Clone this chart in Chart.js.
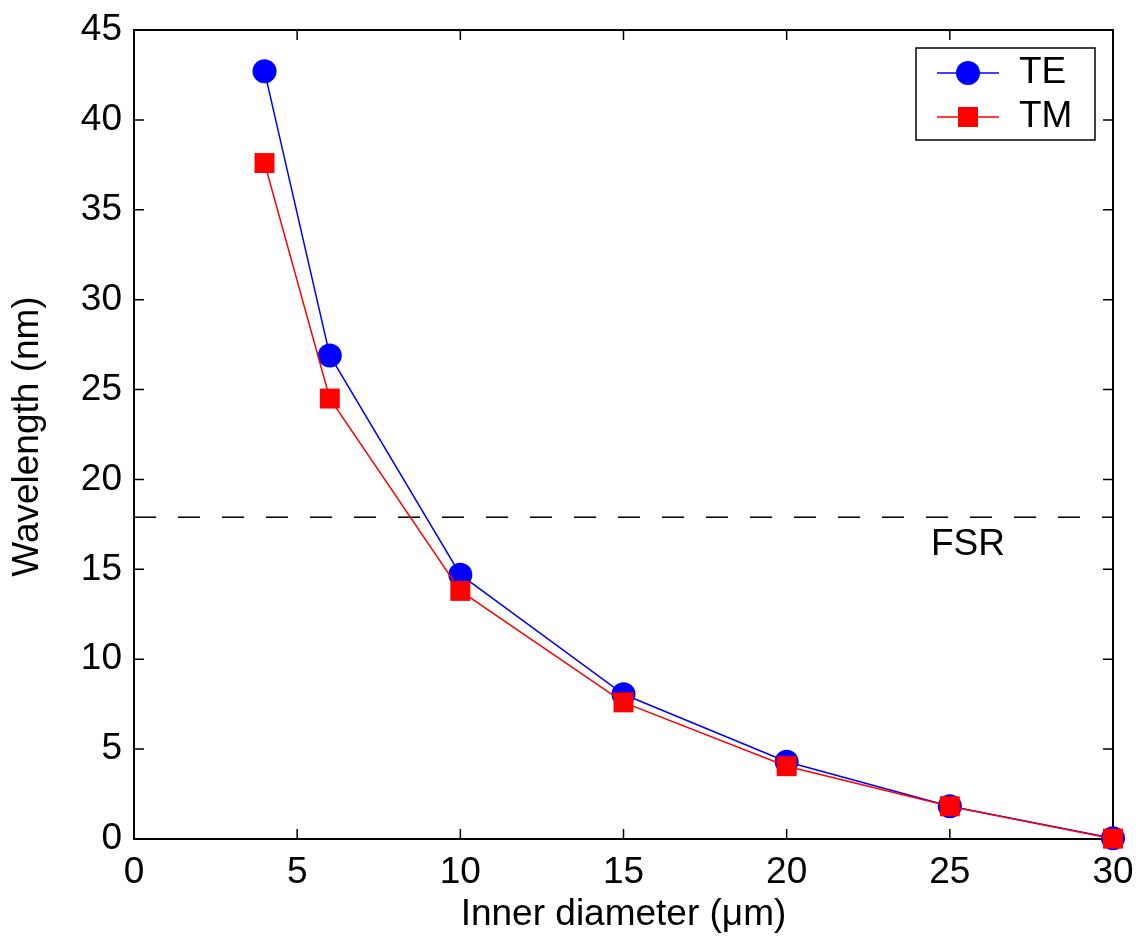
<!DOCTYPE html>
<html>
<head>
<meta charset="utf-8">
<script src="https://cdn.jsdelivr.net/npm/chart.js@4/dist/chart.umd.min.js"></script>
<style>
html,body{margin:0;padding:0;background:#fff;}
#wrap{width:1138px;height:945px;position:relative;}
</style>
</head>
<body>
<div id="wrap"><canvas id="c" width="1138" height="945"></canvas></div>
<script>
const diameters = [4, 6, 10, 15, 20, 25, 30];
const teValues = [42.7, 26.9, 14.7, 8.05, 4.3, 1.82, 0.04];
const tmValues = [37.6, 24.5, 13.8, 7.6, 4.05, 1.82, 0.02];
const fsrValue = 17.9;
const xTicks = [0, 5, 10, 15, 20, 25, 30];
const yTicks = [0, 5, 10, 15, 20, 25, 30, 35, 40, 45];
const seriesNames = ['TE', 'TM'];
const xTitle = 'Inner diameter (\u03bcm)';
const yTitle = 'Wavelength (nm)';
const fsrLabel = 'FSR';

const FONT = '"Liberation Sans", Arial, Helvetica, sans-serif';
const FS = 37;

const toPts = (xs, ys) => xs.map((x, i) => ({x: x, y: ys[i]}));

const framePlugin = {
  id: 'frame',
  beforeDatasetsDraw(chart) {
    const {ctx, chartArea: a, scales: {x, y}} = chart;
    ctx.save();
    ctx.strokeStyle = '#000';
    ctx.lineWidth = 2;
    ctx.strokeRect(a.left, a.top, a.right - a.left, a.bottom - a.top);
    ctx.lineWidth = 1.5;
    const tl = 10;
    ctx.beginPath();
    xTicks.forEach(v => {
      const px = x.getPixelForValue(v);
      ctx.moveTo(px, a.bottom); ctx.lineTo(px, a.bottom - tl);
      ctx.moveTo(px, a.top); ctx.lineTo(px, a.top + tl);
    });
    yTicks.forEach(v => {
      const py = y.getPixelForValue(v);
      ctx.moveTo(a.left, py); ctx.lineTo(a.left + tl, py);
      ctx.moveTo(a.right, py); ctx.lineTo(a.right - tl, py);
    });
    ctx.stroke();
    ctx.restore();
  },
  afterDraw(chart) {
    const {ctx, chartArea: a, scales: {x, y}} = chart;
    ctx.save();
    ctx.fillStyle = '#000';
    ctx.font = FS + 'px ' + FONT;
    ctx.textAlign = 'center';
    ctx.textBaseline = 'middle';
    ctx.fillText(xTitle, (a.left + a.right) / 2, 915);
    ctx.save();
    ctx.translate(28, (a.top + a.bottom) / 2 + 2);
    ctx.rotate(-Math.PI / 2);
    ctx.fillText(yTitle, 0, 0);
    ctx.restore();
    ctx.textAlign = 'left';
    ctx.fillText(fsrLabel, 931, y.getPixelForValue(fsrValue) + 28);
    const bx = 916, by = 48, bw = 179, bh = 92;
    ctx.fillStyle = '#fff';
    ctx.fillRect(bx, by, bw, bh);
    ctx.strokeStyle = '#000';
    ctx.lineWidth = 1.5;
    ctx.strokeRect(bx, by, bw, bh);
    const rows = [
      {name: seriesNames[0], color: '#0000ff', style: 'circle', y: 73},
      {name: seriesNames[1], color: '#ff0000', style: 'rect', y: 117}
    ];
    rows.forEach(r => {
      ctx.strokeStyle = r.color;
      ctx.lineWidth = 1.5;
      ctx.beginPath();
      ctx.moveTo(937, r.y); ctx.lineTo(999, r.y);
      ctx.stroke();
      ctx.fillStyle = r.color;
      if (r.style === 'circle') {
        ctx.beginPath(); ctx.arc(968, r.y, 12, 0, Math.PI * 2); ctx.fill();
      } else {
        ctx.fillRect(958, r.y - 10, 20, 20);
      }
      ctx.fillStyle = '#000';
      ctx.textAlign = 'left';
      ctx.textBaseline = 'middle';
      ctx.fillText(r.name, 1019, r.y);
    });
    ctx.restore();
  }
};

new Chart(document.getElementById('c'), {
  type: 'scatter',
  data: {
    datasets: [
      {
        label: seriesNames[0],
        data: toPts(diameters, teValues),
        showLine: true,
        borderColor: '#0000ff',
        backgroundColor: '#0000ff',
        borderWidth: 1.5,
        pointStyle: 'circle',
        pointRadius: 12,
        pointHoverRadius: 12,
        pointBorderWidth: 0,
        clip: false,
        order: 2
      },
      {
        label: seriesNames[1],
        data: toPts(diameters, tmValues),
        showLine: true,
        borderColor: '#ff0000',
        backgroundColor: '#ff0000',
        borderWidth: 1.5,
        pointStyle: 'rect',
        pointRadius: 14.1,
        pointHoverRadius: 14.1,
        pointBorderWidth: 0,
        clip: false,
        order: 1
      },
      {
        label: fsrLabel,
        data: [{x: 0, y: fsrValue}, {x: 30, y: fsrValue}],
        showLine: true,
        borderColor: '#000',
        borderWidth: 1.5,
        borderDash: [22, 22],
        pointRadius: 0,
        order: 3
      }
    ]
  },
  options: {
    responsive: false,
    animation: false,
    events: [],
    layout: {padding: {top: 30, right: 25, left: 0, bottom: 0}},
    plugins: {legend: {display: false}, tooltip: {enabled: false}},
    scales: {
      x: {
        type: 'linear', min: 0, max: 30,
        afterFit(s) { s.height = 106; s.paddingLeft = 0; s.paddingRight = 0; },
        afterBuildTicks(s) { s.ticks = xTicks.map(v => ({value: v})); },
        grid: {display: false, drawTicks: false},
        border: {display: false},
        ticks: {color: '#000', font: {family: FONT, size: FS}, padding: 12, maxRotation: 0, autoSkip: false}
      },
      y: {
        type: 'linear', min: 0, max: 45,
        afterFit(s) { s.width = 134; s.paddingTop = 0; s.paddingBottom = 0; },
        afterBuildTicks(s) { s.ticks = yTicks.map(v => ({value: v})); },
        grid: {display: false, drawTicks: false},
        border: {display: false},
        ticks: {color: '#000', font: {family: FONT, size: FS}, padding: 12, autoSkip: false}
      }
    }
  },
  plugins: [framePlugin]
});
</script>
</body>
</html>
